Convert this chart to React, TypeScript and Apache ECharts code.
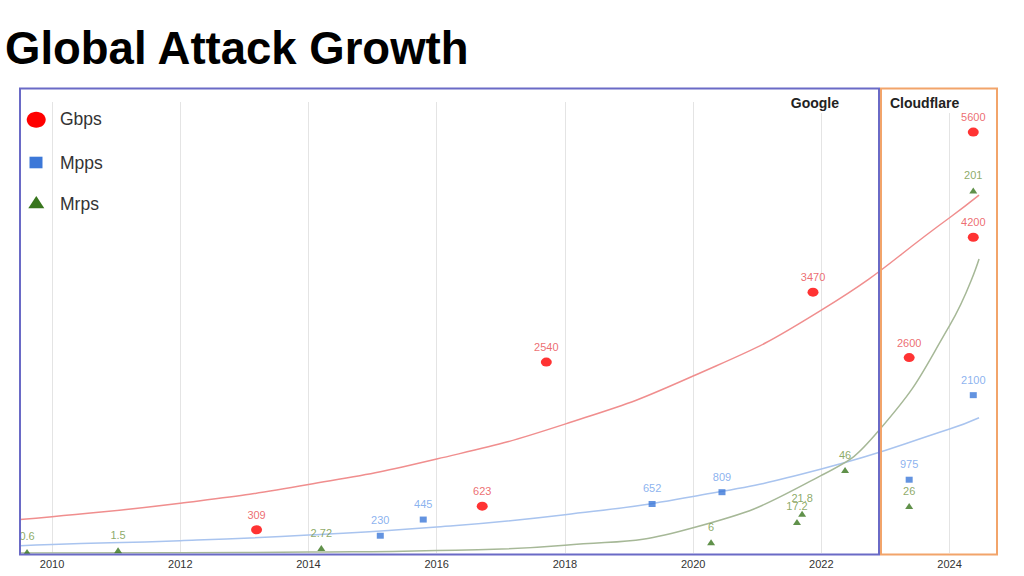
import React, { useEffect, useRef } from 'react';
import * as echarts from 'echarts';

const FONT = '"Liberation Sans", Arial, Helvetica, sans-serif';

// x-axis tick labels (years)
const yearTicks = [2010, 2012, 2014, 2016, 2018, 2020, 2022, 2024];

// observed attacks: [year, value]
const gbpsPoints = [
  [2013.19, 309],
  [2016.71, 623],
  [2017.71, 2540],
  [2021.87, 3470],
  [2023.37, 2600],
  [2024.37, 4200],
  [2024.37, 5600],
];
const mppsPoints = [
  [2015.12, 230],
  [2015.79, 445],
  [2019.36, 652],
  [2020.45, 809],
  [2023.37, 975],
  [2024.37, 2100],
];
const mrpsPoints = [
  [2009.61, 0.6],
  [2011.03, 1.5],
  [2014.2, 2.72],
  [2020.28, 6],
  [2021.62, 17.2],
  [2021.7, 21.8],
  [2022.37, 46],
  [2023.37, 26],
  [2024.37, 201],
];

// trend curves: [year, value]
const gbpsTrend = [
  [2009.5, 445],
  [2010, 483],
  [2012, 661],
  [2014, 910],
  [2016, 1250],
  [2018, 1715],
  [2020, 2354],
  [2022, 3231],
  [2024, 4460],
  [2024.46, 4760],
];
const mppsTrend = [
  [2009.5, 96],
  [2010, 114],
  [2012, 164],
  [2014, 239],
  [2016, 345],
  [2018, 510],
  [2020, 752],
  [2022, 1117],
  [2024, 1649],
  [2024.46, 1800],
];
const mrpsTrend = [
  [2009.5, 0.05],
  [2012, 0.2],
  [2014, 0.5],
  [2016, 1.4],
  [2018, 4.3],
  [2020, 14],
  [2022, 43],
  [2022.9, 68],
  [2024, 126],
  [2024.46, 163],
];

const ellipse = 'path://M50 0A50 50 0 1 1 50 100A50 50 0 1 1 50 0Z';

export default function App() {
  const ref = useRef<HTMLDivElement>(null);

  useEffect(() => {
    const chart = echarts.init(ref.current as HTMLDivElement, null, { renderer: 'svg' });
    const labelFmt = (p: any) => String(p.value[1]);
    chart.setOption({
      animation: false,
      backgroundColor: '#ffffff',
      title: {
        text: 'Global Attack Growth',
        left: 5,
        top: 25,
        padding: 0,
        textStyle: { fontSize: 45.5, fontWeight: 'bold', color: '#000000', fontFamily: FONT },
      },
      grid: { left: 20, right: 27, top: 102, bottom: 23 },
      xAxis: {
        type: 'value',
        min: 2009.5,
        max: 2024.74,
        axisLine: { show: false },
        axisTick: { show: false, customValues: yearTicks },
        axisLabel: {
          customValues: yearTicks,
          margin: 5,
          fontSize: 11,
          color: '#333333',
          fontFamily: FONT,
          formatter: (v: number) => String(v),
        },
        splitLine: { show: true, lineStyle: { color: '#e4e4e4', width: 1 } },
      },
      yAxis: [
        { type: 'value', min: 0, max: 6000, show: false },
        { type: 'value', min: 0, max: 250, show: false },
      ],
      series: [
        {
          type: 'line', name: 'Gbps trend', data: gbpsTrend, yAxisIndex: 0,
          smooth: true, showSymbol: false, symbol: 'none', silent: true, z: 2,
          lineStyle: { color: '#f08e8e', width: 1.5 },
        },
        {
          type: 'line', name: 'Mpps trend', data: mppsTrend, yAxisIndex: 0,
          smooth: true, showSymbol: false, symbol: 'none', silent: true, z: 2,
          lineStyle: { color: '#a9c4ef', width: 1.5 },
        },
        {
          type: 'line', name: 'Mrps trend', data: mrpsTrend, yAxisIndex: 1,
          smooth: true, showSymbol: false, symbol: 'none', silent: true, z: 2,
          lineStyle: { color: '#a6b897', width: 1.5 },
        },
        {
          type: 'scatter', name: 'Gbps', data: gbpsPoints, yAxisIndex: 0, z: 5,
          symbol: ellipse, symbolSize: [11, 9],
          itemStyle: { color: '#ff0000' },
          label: { show: true, position: 'top', distance: 5, formatter: labelFmt, color: '#e8474c', fontSize: 11, fontFamily: FONT },
        },
        {
          type: 'scatter', name: 'Mpps', data: mppsPoints, yAxisIndex: 0, z: 5,
          symbol: 'rect', symbolSize: [7, 6],
          itemStyle: { color: '#3c78d8' },
          label: { show: true, position: 'top', distance: 7, formatter: labelFmt, color: '#6d9eeb', fontSize: 11, fontFamily: FONT },
        },
        {
          type: 'scatter', name: 'Mrps', data: mrpsPoints, yAxisIndex: 1, z: 5,
          symbol: 'triangle', symbolSize: [8, 6],
          itemStyle: { color: '#38761d' },
          label: { show: true, position: 'top', distance: 7, formatter: labelFmt, color: '#6f9440', fontSize: 11, fontFamily: FONT },
        },
      ],
      graphic: [
        { type: 'rect', z: 100, silent: true, shape: { x: 20, y: 88.5, width: 859, height: 466 }, style: { fill: 'none', stroke: '#6a6ac6', lineWidth: 2 } },
        { type: 'rect', z: 100, silent: true, shape: { x: 881, y: 88.5, width: 116, height: 466 }, style: { fill: 'none', stroke: '#f2a46a', lineWidth: 2 } },
        {
          type: 'text', z: 101, silent: true, x: 841, y: 103,
          style: { text: 'Google', fill: '#222222', font: `bold 14px ${FONT}`, align: 'right', verticalAlign: 'middle', backgroundColor: '#ffffff', padding: [3, 2] },
        },
        {
          type: 'text', z: 101, silent: true, x: 888, y: 103,
          style: { text: 'Cloudflare', fill: '#222222', font: `bold 14px ${FONT}`, align: 'left', verticalAlign: 'middle', backgroundColor: '#ffffff', padding: [3, 2] },
        },
        { type: 'ellipse', z: 101, silent: true, shape: { cx: 36.2, cy: 119.7, rx: 9.5, ry: 8 }, style: { fill: '#ff0000' } },
        { type: 'rect', z: 101, silent: true, shape: { x: 29.5, y: 156.7, width: 13, height: 11.6 }, style: { fill: '#3c78d8' } },
        { type: 'polygon', z: 101, silent: true, shape: { points: [[36.3, 196], [44.3, 208.3], [28.3, 208.3]] }, style: { fill: '#38761d' } },
        { type: 'text', z: 101, silent: true, x: 60, y: 119.3, style: { text: 'Gbps', fill: '#333333', font: `17.5px ${FONT}`, verticalAlign: 'middle' } },
        { type: 'text', z: 101, silent: true, x: 60, y: 162.5, style: { text: 'Mpps', fill: '#333333', font: `17.5px ${FONT}`, verticalAlign: 'middle' } },
        { type: 'text', z: 101, silent: true, x: 60, y: 204.3, style: { text: 'Mrps', fill: '#333333', font: `17.5px ${FONT}`, verticalAlign: 'middle' } },
      ],
    });
    return () => chart.dispose();
  }, []);

  return <div ref={ref} style={{ position: 'absolute', left: 0, top: 0, width: 1024, height: 576 }} />;
}
